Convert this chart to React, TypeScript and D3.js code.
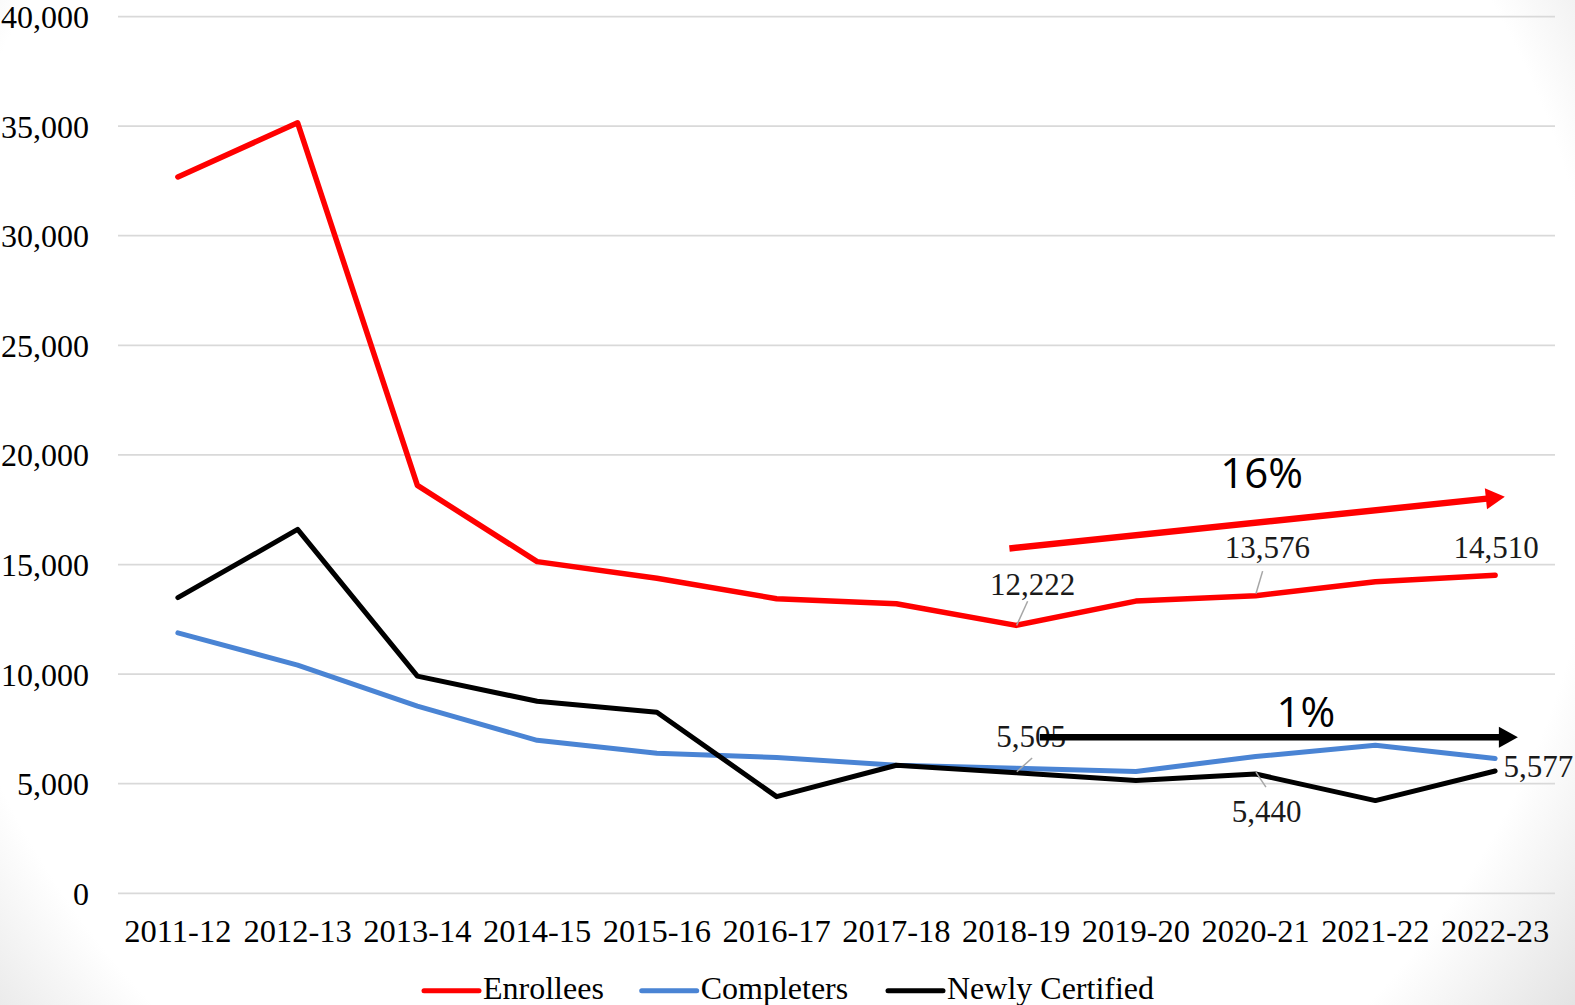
import React from "react";
import * as d3 from "d3";

const categories = ["2011-12","2012-13","2013-14","2014-15","2015-16","2016-17","2017-18","2018-19","2019-20","2020-21","2021-22","2022-23"];
const enrollees = [32680, 35150, 18610, 15130, 14370, 13440, 13210, 12222, 13330, 13576, 14210, 14510];
const completers = [11880, 10410, 8540, 6980, 6390, 6200, 5840, 5700, 5560, 6240, 6750, 6150];
const newlyCertified = [13490, 16600, 9910, 8760, 8260, 4410, 5840, 5505, 5150, 5440, 4230, 5577];
const yTicks = [0, 5000, 10000, 15000, 20000, 25000, 30000, 35000, 40000];
const seriesNames = ["Enrollees", "Completers", "Newly Certified"];
const seriesColors = ["#FF0000", "#4A84D4", "#000000"];

// data labels: [series index, category index, text]
const dataLabels: [number, number, string][] = [
  [0, 7, "12,222"], [0, 9, "13,576"], [0, 11, "14,510"],
  [2, 7, "5,505"], [2, 9, "5,440"], [2, 11, "5,577"],
];
// trend arrows: [fromIndex, fromValue, toIndex, toValue, label]
const trendArrows: [number, number, number, number, string][] = [
  [6.944, 15730, 11.081, 18090, "16%"],
  [7.198, 7115, 11.19, 7115, "1%"],
];

// layout (positions/offsets, not data)
const W = 1575, H = 1005;
const PL = 118, PR = 1555, PT = 16.5, PB = 893.3;
const labelLayout = [
  { dx: 16.6, dy: -30.7, anchor: "middle", leader: [[11.5, -24.1], [0.5, 0]] },
  { dx: 11.8, dy: -37.3, anchor: "middle", leader: [[7, -24.6], [0.3, -2]] },
  { dx: 0.9, dy: -16.9, anchor: "middle", leader: null },
  { dx: 15, dy: -25.9, anchor: "middle", leader: [[16, -14.6], [0.7, -0.9]] },
  { dx: 11, dy: 48, anchor: "middle", leader: [[0.3, -2], [10.3, 13]] },
  { dx: 8.3, dy: 6.1, anchor: "start", leader: null },
];
const trendLayout = [
  { tx: 1261.6, ty: 488, color: "#FF0000" },
  { tx: 1305.8, ty: 727, color: "#000000" },
];

export default function App() {
  const x = d3.scaleBand<string>().domain(categories).range([PL, PR]).padding(0);
  const bw = x.bandwidth();
  const xc = (c: string) => (x(c) as number) + bw / 2;
  const xi = (i: number) => PL + (i + 0.5) * bw;
  const y = d3.scaleLinear().domain([0, 40000]).range([PB, PT]);
  const fmt = d3.format(",");
  const allSeries = [enrollees, completers, newlyCertified];
  const widths = [5.5, 5, 5];
  const line = d3.line<number>().x((_, i) => xc(categories[i])).y((d) => y(d));

  return (
    <svg width={W} height={H} style={{ position: "absolute", left: 0, top: 0 }}
      fontFamily="'Liberation Serif', 'Times New Roman', serif">
      <defs>
        <radialGradient id="bg" gradientUnits="userSpaceOnUse" cx={760} cy={420} r={1080}>
          <stop offset="0.78" stopColor="#ffffff" />
          <stop offset="1" stopColor="#d6d6d6" />
        </radialGradient>
      </defs>
      <rect x={0} y={0} width={W} height={H} fill="url(#bg)" />
      {yTicks.map((t) => (
        <g key={t}>
          <line x1={PL} x2={PR} y1={y(t)} y2={y(t)} stroke="#D9D9D9" strokeWidth={1.75} />
          <text x={89} y={y(t) + 11.5} textAnchor="end" fontSize={32} fill="#000">{fmt(t)}</text>
        </g>
      ))}
      {categories.map((c) => (
        <text key={c} x={xc(c)} y={941.5} textAnchor="middle" fontSize={32.5} fill="#000">{c}</text>
      ))}
      {allSeries.map((s, k) => (
        <path key={k} d={line(s) as string} fill="none" stroke={seriesColors[k]}
          strokeWidth={widths[k]} strokeLinejoin="round" strokeLinecap="round" />
      ))}
      {dataLabels.map(([si, ci, txt], k) => {
        const px = xc(categories[ci]);
        const py = y(allSeries[si][ci]);
        const L = labelLayout[k];
        return (
          <g key={k}>
            {L.leader && (
              <line x1={px + L.leader[0][0]} y1={py + L.leader[0][1]} x2={px + L.leader[1][0]} y2={py + L.leader[1][1]}
                stroke="#A6A6A6" strokeWidth={1.5} />
            )}
            <text x={px + L.dx} y={py + L.dy} textAnchor={L.anchor as any} fontSize={31} fill="#1a1a1a">{txt}</text>
          </g>
        );
      })}
      {trendArrows.map(([i0, v0, i1, v1, lab], k) => {
        const x0 = xi(i0), y0 = y(v0), x1 = xi(i1), y1 = y(v1);
        const ang = Math.atan2(y1 - y0, x1 - x0);
        const hl = 19, hw = 10.5;
        const bx = x1 - hl * Math.cos(ang), by = y1 - hl * Math.sin(ang);
        const nx = -Math.sin(ang), ny = Math.cos(ang);
        const T = trendLayout[k];
        return (
          <g key={k}>
            <line x1={x0} y1={y0} x2={bx + Math.cos(ang)} y2={by + Math.sin(ang)} stroke={T.color} strokeWidth={6.5} />
            <polygon points={`${x1},${y1} ${bx + nx * hw},${by + ny * hw} ${bx - nx * hw},${by - ny * hw}`} fill={T.color} />
            <text x={T.tx} y={T.ty} textAnchor="middle" fontSize={42} fill="#000"
              fontFamily="'Open Sans', 'Noto Sans', sans-serif">{lab}</text>
          </g>
        );
      })}
      {seriesNames.map((n, k) => {
        const lx = [424, 641.7, 888][k];
        return (
          <g key={n}>
            <line x1={lx} x2={lx + 55} y1={990.7} y2={990.7} stroke={seriesColors[k]} strokeWidth={5} strokeLinecap="round" />
            <text x={lx + 59} y={999} fontSize={32} fill="#000">{n}</text>
          </g>
        );
      })}
    </svg>
  );
}
